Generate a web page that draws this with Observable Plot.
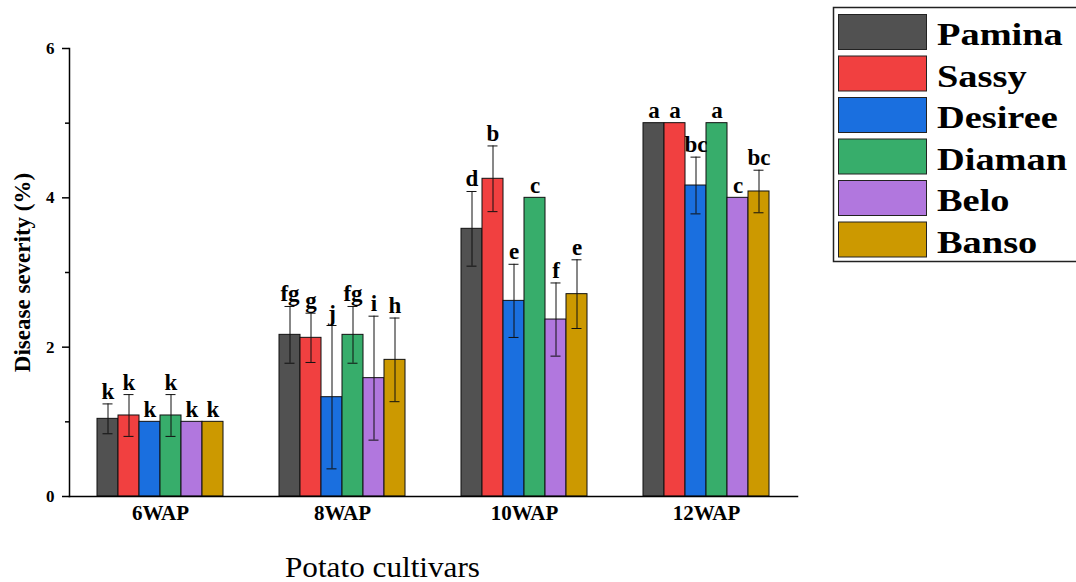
<!DOCTYPE html>
<html><head><meta charset="utf-8">
<script src="https://cdn.jsdelivr.net/npm/d3@7"></script>
<script src="https://cdn.jsdelivr.net/npm/@observablehq/plot@0.6"></script>
<style>
body{margin:0;background:#fff}
#wrap{position:relative;width:1076px;height:582px;overflow:hidden}
#wrap svg.ov{position:absolute;left:0;top:0;pointer-events:none}
#wrap g[aria-label="y-axis tick label"]{font-weight:bold;font-size:17px}
</style>
</head><body><div id="wrap"></div>
<script>
const groups = ["6WAP", "8WAP", "10WAP", "12WAP"];
const cultivars = ["Pamina", "Sassy", "Desiree", "Diaman", "Belo", "Banso"];
const colors = ["#515151", "#F14040", "#1A6FDF", "#37AD6B", "#B177DE", "#CC9900"];

const mean6WAP  = [1.04, 1.085, 1.0, 1.085, 1.0, 1.0];
const err6WAP   = [0.2, 0.28, 0, 0.28, 0, 0];
const mean8WAP  = [2.165, 2.125, 1.33, 2.165, 1.585, 1.83];
const err8WAP   = [0.38, 0.33, 0.96, 0.38, 0.83, 0.56];
const mean10WAP = [3.585, 4.255, 2.62, 4.0, 2.37, 2.71];
const err10WAP  = [0.5, 0.44, 0.49, 0, 0.49, 0.46];
const mean12WAP = [5.0, 5.0, 4.165, 5.0, 4.0, 4.085];
const err12WAP  = [0, 0, 0.38, 0, 0, 0.285];

const letters6WAP  = ["k", "k", "k", "k", "k", "k"];
const letters8WAP  = ["fg", "g", "j", "fg", "i", "h"];
const letters10WAP = ["d", "b", "e", "c", "f", "e"];
const letters12WAP = ["a", "a", "bc", "a", "c", "bc"];

const yTicks = [0, 2, 4, 6];
const yMinorTicks = [1, 3, 5];
const yLabel = "Disease severity (%)";
const xTitle = "Potato cultivars";

const means = [mean6WAP, mean8WAP, mean10WAP, mean12WAP];
const errs = [err6WAP, err8WAP, err10WAP, err12WAP];
const letters = [letters6WAP, letters8WAP, letters10WAP, letters12WAP];

const data = [];
groups.forEach((g, gi) => cultivars.forEach((c, ci) => data.push({
  group: g, cultivar: c, value: means[gi][ci], err: errs[gi][ci], letter: letters[gi][ci]
})));
const errData = data.filter(d => d.err > 0);

const font = "'Liberation Serif', 'Times New Roman', serif";

const plot = Plot.plot({
  width: 1076, height: 582,
  marginLeft: 68, marginRight: 279, marginTop: 48, marginBottom: 86,
  style: {fontFamily: font, background: "#fff", color: "#000"},
  fx: {domain: groups, padding: 0, label: null},
  x: {domain: cultivars, paddingInner: 0, paddingOuter: 1.3, axis: null},
  y: {domain: [0, 6], axis: null},
  color: {domain: cultivars, range: colors},
  marks: [
    Plot.barY(data, {fx: "group", x: "cultivar", y: "value", fill: "cultivar", stroke: "#111", strokeWidth: 1}),
    Plot.ruleX(errData, {fx: "group", x: "cultivar", y1: d => d.value - d.err, y2: d => d.value + d.err, stroke: "#111", strokeWidth: 1}),
    Plot.tickY(errData, {fx: "group", x: "cultivar", y: d => d.value - d.err, insetLeft: 5.5, insetRight: 5.5, stroke: "#111", strokeWidth: 1}),
    Plot.tickY(errData, {fx: "group", x: "cultivar", y: d => d.value + d.err, insetLeft: 5.5, insetRight: 5.5, stroke: "#111", strokeWidth: 1}),
    Plot.text(data, {fx: "group", x: "cultivar", y: d => d.value + d.err, text: "letter", dy: -5, lineAnchor: "bottom", fontSize: 23, fontWeight: "bold", fill: "#000"}),
    Plot.frame({anchor: "bottom", facet: "super", stroke: "#000", strokeWidth: 1.5}),
    Plot.frame({anchor: "left", facet: "super", stroke: "#000", strokeWidth: 1.5}),
    Plot.axisY({ticks: yTicks, tickSize: 7, tickPadding: 8, tickFormat: d => String(d), fontSize: 17, fontWeight: "bold", label: null, strokeWidth: 1.5}),
    Plot.axisY({ticks: yMinorTicks, tickSize: 4, tickFormat: () => "", label: null, strokeWidth: 1.5}),
    Plot.axisY({ticks: [], label: yLabel, labelAnchor: "center", labelOffset: 56, fontSize: 23, fontWeight: "bold", labelArrow: false}),
    Plot.axisFx({anchor: "bottom", tickSize: 0, tickPadding: 9, fontSize: 21, fontWeight: "bold", label: null})
  ]
});
const wrap = document.getElementById("wrap");
wrap.appendChild(plot);

// legend and x title overlay
const ov = d3.select(wrap).append("svg").attr("class", "ov")
  .attr("width", 1076).attr("height", 582).style("font-family", font);
ov.append("rect").attr("x", 833.5).attr("y", 7.5).attr("width", 250).attr("height", 254)
  .attr("fill", "#fff").attr("stroke", "#222").attr("stroke-width", 1.5);
cultivars.forEach((c, i) => {
  const top = 14 + i * 41.5;
  ov.append("rect").attr("x", 838.5).attr("y", top + 0.5).attr("width", 88).attr("height", 35)
    .attr("fill", colors[i]).attr("stroke", "#222").attr("stroke-width", 1);
  ov.append("text").attr("transform", `translate(937,${top + 31}) scale(1.2,1)`)
    .attr("font-size", 32).attr("font-weight", "bold").attr("fill", "#000").text(c);
});
ov.append("text").attr("x", 285).attr("y", 577)
  .attr("font-size", 29).attr("textLength", 195).attr("lengthAdjust", "spacingAndGlyphs")
  .attr("fill", "#000").text(xTitle);
</script>
</body></html>
